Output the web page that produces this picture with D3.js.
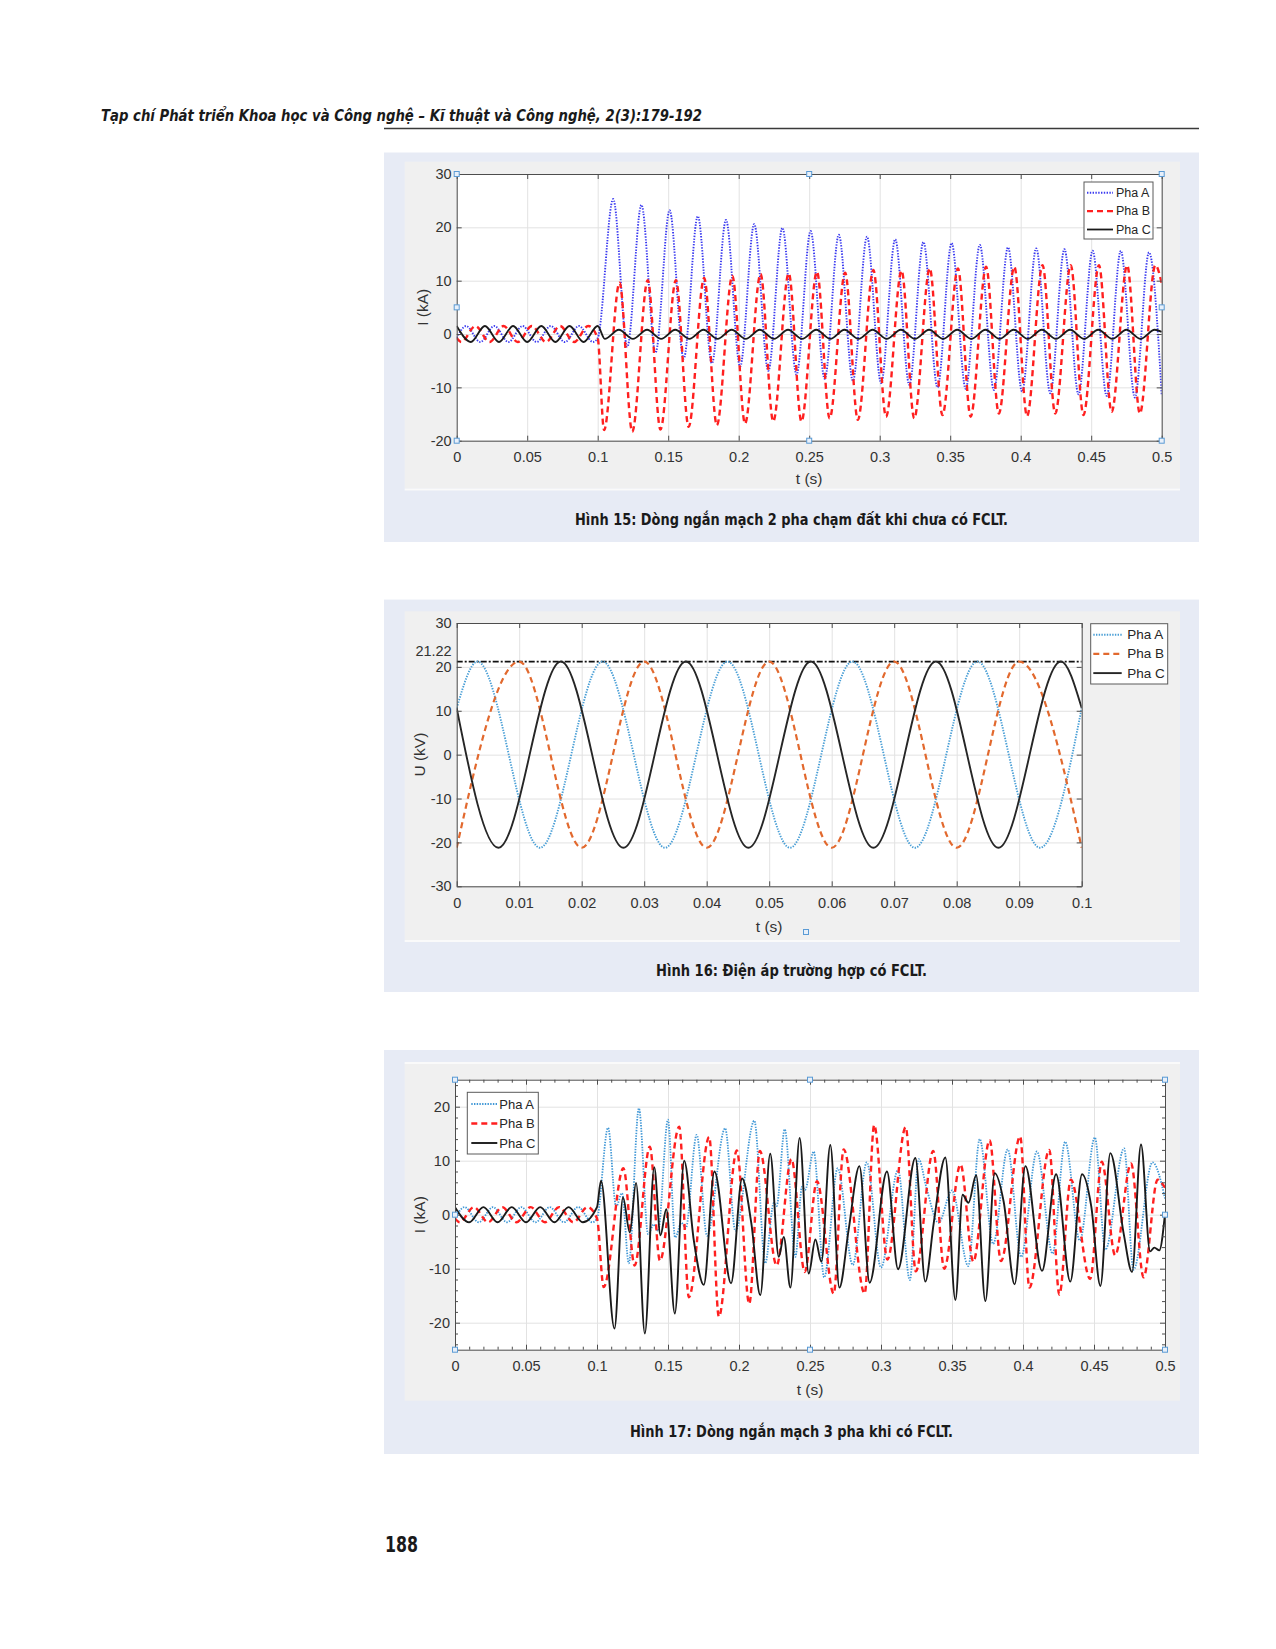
<!DOCTYPE html>
<html><head><meta charset="utf-8">
<script src="https://cdn.jsdelivr.net/npm/d3@7"></script>
<style>body{margin:0;background:#fff}svg{display:block}</style>
</head><body>
<svg id="page" width="1276" height="1649"></svg>
<script>
// ---------------- DATA ----------------
const headerText = "Tạp chí Phát triển Khoa học và Công nghệ – Kĩ thuật và Công nghệ, 2(3):179-192";
const pageNumber = "188";
const captions = [
  "Hình 15: Dòng ngắn mạch 2 pha chạm đất khi chưa có FCLT.",
  "Hình 16: Điện áp trường hợp có FCLT.",
  "Hình 17: Dòng ngắn mạch 3 pha khi có FCLT."
];
const seriesNames = ["Pha A", "Pha B", "Pha C"];

const fig15XTicks = [0, 0.05, 0.1, 0.15, 0.2, 0.25, 0.3, 0.35, 0.4, 0.45, 0.5];
const fig15YTicks = [-20, -10, 0, 10, 20, 30];
const fig15XLabel = "t (s)", fig15YLabel = "I (kA)";
const fig15Handles = [[0,30],[0.25,30],[0.5,30],[0,5],[0.5,5],[0,-20],[0.25,-20],[0.5,-20]];

const fig15PhaA = [[0,-0.75],[0.0067,1.5],[0.0167,-1.5],[0.0267,1.5],[0.0367,-1.5],[0.0467,1.5],[0.0567,-1.5],[0.0667,1.5],[0.0767,-1.5],[0.0867,1.5],[0.0967,-1.5],[0.1,-0.75],
  [0.111,25.3],[0.121,-2.4],[0.131,24.2],[0.141,-3.5],[0.151,23.2],[0.161,-4.6],[0.171,22.1],[0.181,-5.5],[0.191,21.4],[0.201,-6.1],[0.211,20.6],[0.221,-6.9],[0.231,19.9],[0.241,-7.6],[0.251,19.3],[0.261,-8.4],[0.271,18.6],[0.281,-8.75],[0.291,18.25],[0.301,-9.2],[0.311,17.75],[0.321,-9.5],[0.331,17.25],[0.341,-10.0],[0.351,17.06],[0.361,-10.25],[0.371,16.7],[0.381,-10.5],[0.391,16.25],[0.401,-10.8],[0.411,16.06],[0.421,-11.1],[0.431,15.9],[0.441,-11.3],[0.451,15.6],[0.461,-11.6],[0.471,15.6],[0.481,-11.9],[0.491,15.3],[0.5,-11.4]];
const fig15PhaB = [[0,-0.75],[0.0033,-1.5],[0.0133,1.5],[0.0233,-1.5],[0.0333,1.5],[0.0433,-1.5],[0.0533,1.5],[0.0633,-1.5],[0.0733,1.5],[0.0833,-1.5],[0.0933,1.5],[0.1,-0.75],
  [0.1045,-18.0],[0.1155,9.6],[0.1245,-18.3],[0.1355,10.1],[0.1445,-17.9],[0.1555,10.1],[0.1645,-17.4],[0.1755,10.5],[0.1845,-17.1],[0.1955,10.9],[0.2045,-16.8],[0.2155,11.25],[0.2245,-16.4],[0.2355,11.4],[0.2445,-16.4],[0.2555,11.7],[0.2645,-15.8],[0.2755,11.5],[0.2845,-16.1],[0.2955,12.0],[0.3045,-15.5],[0.3155,11.9],[0.3245,-15.8],[0.3355,12.3],[0.3445,-15.2],[0.3555,12.3],[0.3645,-15.5],[0.3755,12.6],[0.3845,-14.9],[0.3955,12.6],[0.4045,-15.4],[0.4155,12.9],[0.4245,-14.9],[0.4355,12.9],[0.4445,-15.2],[0.4555,12.9],[0.4645,-14.6],[0.4755,12.9],[0.4845,-14.9],[0.4955,12.9],[0.5,9.5]];
const fig15PhaC = [[0,1.5],[0.01,-1.5],[0.02,1.5],[0.03,-1.5],[0.04,1.5],[0.05,-1.5],[0.06,1.5],[0.07,-1.5],[0.08,1.5],[0.09,-1.5],[0.1,1.5],
  [0.105,-0.9],[0.115,0.8],[0.125,-0.9],[0.135,0.8],[0.145,-0.9],[0.155,0.8],[0.165,-0.9],[0.175,0.8],[0.185,-0.9],[0.195,0.8],[0.205,-0.9],[0.215,0.8],[0.225,-0.9],[0.235,0.8],[0.245,-0.9],[0.255,0.8],[0.265,-0.9],[0.275,0.8],[0.285,-0.9],[0.295,0.8],[0.305,-0.9],[0.315,0.8],[0.325,-0.9],[0.335,0.8],[0.345,-0.9],[0.355,0.8],[0.365,-0.9],[0.375,0.8],[0.385,-0.9],[0.395,0.8],[0.405,-0.9],[0.415,0.8],[0.425,-0.9],[0.435,0.8],[0.445,-0.9],[0.455,0.8],[0.465,-0.9],[0.475,0.8],[0.485,-0.9],[0.495,0.8],[0.5,0.4]];

const fig16XTicks = [0, 0.01, 0.02, 0.03, 0.04, 0.05, 0.06, 0.07, 0.08, 0.09, 0.1];
const fig16YTicks = [-30, -20, -10, 0, 10, 20, 30];
const fig16PeakLevel = 21.22;
const fig16XLabel = "t (s)", fig16YLabel = "U (kV)";
const fig16PhaA = [[0,10.61],[0.00333,21.22],[0.01333,-21.22],[0.02333,21.22],[0.03333,-21.22],[0.04333,21.22],[0.05333,-21.22],[0.06333,21.22],[0.07333,-21.22],[0.08333,21.22],[0.09333,-21.22],[0.1,10.61]];
const fig16PhaB = [[0,-21.22],[0.01,21.22],[0.02,-21.22],[0.03,21.22],[0.04,-21.22],[0.05,21.22],[0.06,-21.22],[0.07,21.22],[0.08,-21.22],[0.09,21.22],[0.1,-21.22]];
const fig16PhaC = [[0,10.61],[0.00667,-21.22],[0.01667,21.22],[0.02667,-21.22],[0.03667,21.22],[0.04667,-21.22],[0.05667,21.22],[0.06667,-21.22],[0.07667,21.22],[0.08667,-21.22],[0.09667,21.22],[0.1,10.61]];

const fig17XTicks = [0, 0.05, 0.1, 0.15, 0.2, 0.25, 0.3, 0.35, 0.4, 0.45, 0.5];
const fig17YTicks = [-20, -10, 0, 10, 20];
const fig17XMinor = [0.01,0.02,0.03,0.04,0.06,0.07,0.08,0.09,0.11,0.12,0.13,0.14,0.16,0.17,0.18,0.19,0.21,0.22,0.23,0.24,0.26,0.27,0.28,0.29,0.31,0.32,0.33,0.34,0.36,0.37,0.38,0.39,0.41,0.42,0.43,0.44,0.46,0.47,0.48,0.49];
const fig17YMinor = [-24,-22,-18,-16,-14,-12,-8,-6,-4,-2,2,4,6,8,12,14,16,18,22,24];
const fig17XLabel = "t (s)", fig17YLabel = "I (kA)";
const fig17Handles = [[0,25],[0.25,25],[0.5,25],[0,0],[0.5,0],[0,-25],[0.25,-25],[0.5,-25]];

const fig17PhaA = [[0,-0.7],[0.0067,1.4],[0.0167,-1.4],[0.0267,1.4],[0.0367,-1.4],[0.0467,1.4],[0.0567,-1.4],[0.0667,1.4],[0.0767,-1.4],[0.0867,1.4],[0.0967,-1.4],[0.1,-0.7],
  [0.1078,16.1],[0.1135,1.5],[0.1176,4.0],[0.1224,-9.0],[0.1295,19.7],[0.136,-3.6],[0.14,-1.8],[0.143,-3.0],[0.15,17.6],[0.155,-4.2],[0.1595,-1.5],[0.1625,-2.5],[0.1702,14.8],[0.1775,-3.9],[0.1902,16.0],[0.1975,-3.0],[0.2108,17.4],[0.2185,-9.0],[0.2245,2.2],[0.2265,1.6],[0.2322,15.8],[0.2397,-7.8],[0.2444,5.2],[0.2465,4.6],[0.2526,11.7],[0.26,-11.6],[0.2695,8.6],[0.2801,-9.3],[0.29,9.7],[0.3,-9.8],[0.312,8.3],[0.3203,-12.1],[0.3265,10.3],[0.332,5.0],[0.3405,-1.5],[0.35,4.5],[0.3615,-9.5],[0.3695,14.0],[0.379,-5.4],[0.3892,12.1],[0.3987,-7.8],[0.4098,11.7],[0.4208,-7.2],[0.4297,13.5],[0.44,-4.8],[0.4506,14.3],[0.458,-6.5],[0.4712,12.3],[0.4778,-10.2],[0.4912,9.7],[0.5,3.0]];
const fig17PhaB = [[0,-0.7],[0.0033,-1.4],[0.0133,1.4],[0.0233,-1.4],[0.0333,1.4],[0.0433,-1.4],[0.0533,1.4],[0.0633,-1.4],[0.0733,1.4],[0.0833,-1.4],[0.0933,1.4],[0.1,-0.7],
  [0.1047,-13.4],[0.1186,8.6],[0.1265,-9.4],[0.1372,12.6],[0.1443,-8.5],[0.1579,16.3],[0.1647,-15.3],[0.179,14.4],[0.1858,-18.9],[0.1985,11.9],[0.2072,-16.5],[0.2147,11.8],[0.2265,-9.4],[0.2369,10.3],[0.2463,-10.6],[0.2549,6.2],[0.2667,-14.6],[0.2737,12.1],[0.2885,-14.6],[0.2952,16.6],[0.3045,-8.3],[0.3174,16.2],[0.3245,-10.5],[0.3368,11.8],[0.3445,-10.0],[0.356,9.3],[0.365,-8.7],[0.3765,13.8],[0.3845,-8.6],[0.398,14.5],[0.4045,-13.5],[0.4185,12.0],[0.4256,-14.8],[0.4337,6.5],[0.4473,-11.9],[0.4555,9.8],[0.4649,-7.5],[0.4761,9.5],[0.4849,-11.6],[0.4948,6.5],[0.5,5.0]];
const fig17PhaC = [[0,1.4],[0.01,-1.4],[0.02,1.4],[0.03,-1.4],[0.04,1.4],[0.05,-1.4],[0.06,1.4],[0.07,-1.4],[0.08,1.4],[0.09,-1.4],[0.1,1.4],
  [0.1028,6.3],[0.1123,-21.1],[0.1183,3.2],[0.1231,-3.3],[0.1275,5.9],[0.1337,-22.0],[0.1403,8.8],[0.1447,-3.8],[0.1488,1.0],[0.1548,-18.3],[0.1614,10.0],[0.1682,-4.8],[0.1752,-13.0],[0.1827,8.0],[0.1944,-12.7],[0.2022,6.7],[0.2087,-1.6],[0.215,-14.9],[0.222,11.3],[0.228,-7.8],[0.2315,-4.1],[0.2362,-13.5],[0.2427,14.2],[0.2491,-10.9],[0.2538,-4.6],[0.258,-8.7],[0.2643,12.9],[0.2707,-13.5],[0.2772,-2.8],[0.2848,9.0],[0.292,-12.6],[0.3042,8.0],[0.312,-10.1],[0.3242,10.5],[0.3312,-12.4],[0.3371,-1.6],[0.3453,10.6],[0.3524,-15.8],[0.3575,3.7],[0.3616,2.2],[0.367,7.3],[0.3735,-16.0],[0.3801,7.7],[0.3864,2.4],[0.3941,-12.9],[0.4017,9.0],[0.4134,-10.4],[0.4233,7.5],[0.4333,-12.4],[0.4416,7.5],[0.4481,1.5],[0.4545,-13.2],[0.4615,11.4],[0.4709,-3.5],[0.4768,-10.6],[0.4831,13.0],[0.4895,-6.8],[0.4925,-6.1],[0.496,-6.6],[0.5,0.2]];

// ---------------- DRAWING ----------------
const svg = d3.select('#page');
svg.append('rect').attr('width',1276).attr('height',1649).attr('fill','#fff');
const SANS = "'Liberation Sans', Arial, Helvetica, sans-serif";
const COND = "'Liberation Sans Narrow', 'DejaVu Sans Condensed', 'Liberation Sans', sans-serif";

svg.append('text').attr('x',101).attr('y',121).text(headerText)
  .attr('font-family',COND).attr('font-style','italic').attr('font-weight','bold')
  .attr('font-size',16).attr('textLength',601).attr('lengthAdjust','spacingAndGlyphs').attr('fill','#1a1a1a');
svg.append('line').attr('x1',384).attr('x2',1199).attr('y1',128.5).attr('y2',128.5)
  .attr('stroke','#3a3a3a').attr('stroke-width',1.3);

svg.append('text').attr('x',385).attr('y',1552).text(pageNumber)
  .attr('font-family',COND).attr('font-weight','bold').attr('font-size',21)
  .attr('textLength',33).attr('lengthAdjust','spacingAndGlyphs').attr('fill','#1a1a1a');

function panel(p){
  svg.append('rect').attr('x',384).attr('y',p.top).attr('width',815).attr('height',p.bottom-p.top).attr('fill','#e7ebf5');
  svg.append('rect').attr('x',404.7).attr('y',p.figTop).attr('width',775.3).attr('height',p.figBottom-p.figTop).attr('fill','#f0f0f0');
  svg.append('line').attr('x1',404.7).attr('x2',1180).attr('y1',p.whiteY).attr('y2',p.whiteY).attr('stroke','#fafafa').attr('stroke-width',2);
  svg.append('text').attr('x',791.5).attr('y',p.capY).attr('text-anchor','middle').text(p.caption)
    .attr('font-family',COND).attr('font-weight','bold').attr('font-size',15)
    .attr('textLength',p.capW).attr('lengthAdjust','spacingAndGlyphs').attr('fill','#1a1a1a');
}
panel({top:152.5,bottom:542,figTop:161.7,figBottom:488.5,whiteY:489.5,capY:525,capW:433,caption:captions[0]});
panel({top:599.6,bottom:992,figTop:611.3,figBottom:940,whiteY:941,capY:976,capW:271,caption:captions[1]});
panel({top:1050,bottom:1454,figTop:1063,figBottom:1400.7,whiteY:1063,capY:1437,capW:323,caption:captions[2]});

const fmt = d => String(+(+d).toFixed(2));
let clipId = 0;
function chart(c){
  const x = d3.scaleLinear().domain(c.xDomain).range([c.left,c.right]);
  const y = d3.scaleLinear().domain(c.yDomain).range([c.bottom,c.top]);
  const w = c.right-c.left, h = c.bottom-c.top;
  const g = svg.append('g');
  g.append('rect').attr('x',c.left).attr('y',c.top).attr('width',w).attr('height',h).attr('fill','#fff');
  // grid
  g.append('g').attr('transform',`translate(0,${c.bottom})`)
    .call(d3.axisBottom(x).tickValues(c.xTicks).tickSize(-h).tickFormat(''))
    .call(s=>{s.select('.domain').remove(); s.selectAll('line').attr('stroke','#e2e2e2').attr('stroke-width',1);});
  g.append('g').attr('transform',`translate(${c.left},0)`)
    .call(d3.axisLeft(y).tickValues(c.yTicks).tickSize(-w).tickFormat(''))
    .call(s=>{s.select('.domain').remove(); s.selectAll('line').attr('stroke','#e2e2e2').attr('stroke-width',1);});
  // clip
  const id = 'clip'+(clipId++);
  g.append('clipPath').attr('id',id).append('rect').attr('x',c.left).attr('y',c.top).attr('width',w).attr('height',h);
  const line = d3.line().x(d=>x(d[0])).y(d=>y(d[1])).curve(d3.curveMonotoneX);
  const lg = g.append('g').attr('clip-path',`url(#${id})`);
  if (c.refLevel !== undefined) {
    lg.append('line').attr('x1',x(c.xDomain[0])).attr('x2',x(c.xDomain[1])).attr('y1',y(c.refLevel)).attr('y2',y(c.refLevel))
      .attr('stroke','#111').attr('stroke-width',1.8).attr('stroke-dasharray','6,2,2,2');
  }
  c.series.forEach(s=>{
    lg.append('path').datum(s.data).attr('d',line).attr('fill','none')
      .attr('stroke',s.color).attr('stroke-width',s.width).attr('stroke-dasharray',s.dash||null)
      .attr('stroke-linejoin','round');
  });
  // axes (ticks inward)
  const axCol = '#4d4d4d';
  const style = s => { s.select('.domain').attr('stroke',axCol); s.selectAll('.tick line').attr('stroke',axCol);
    s.selectAll('text').attr('font-family',SANS).attr('font-size',14.5).attr('fill','#333'); };
  g.append('g').attr('transform',`translate(0,${c.bottom})`)
    .call(d3.axisBottom(x).tickValues(c.xTicks).tickSizeInner(-5).tickSizeOuter(0).tickPadding(11).tickFormat(fmt)).call(style);
  g.append('g').attr('transform',`translate(0,${c.top})`)
    .call(d3.axisTop(x).tickValues(c.xTicks).tickSizeInner(-5).tickSizeOuter(0).tickFormat('')).call(style);
  g.append('g').attr('transform',`translate(${c.left},0)`)
    .call(d3.axisLeft(y).tickValues(c.yTicks).tickSizeInner(-5).tickSizeOuter(0).tickPadding(5).tickFormat(fmt)).call(style);
  g.append('g').attr('transform',`translate(${c.right},0)`)
    .call(d3.axisRight(y).tickValues(c.yTicks).tickSizeInner(-5).tickSizeOuter(0).tickFormat('')).call(style);
  if (c.xMinor) {
    [[d3.axisBottom,c.bottom],[d3.axisTop,c.top]].forEach(([ax,pos])=>{
      g.append('g').attr('transform',`translate(0,${pos})`)
        .call(ax(x).tickValues(c.xMinor).tickSizeInner(-3).tickSizeOuter(0).tickFormat(''))
        .call(s=>{s.select('.domain').remove(); s.selectAll('line').attr('stroke',axCol);});
    });
    [[d3.axisLeft,c.left],[d3.axisRight,c.right]].forEach(([ax,pos])=>{
      g.append('g').attr('transform',`translate(${pos},0)`)
        .call(ax(y).tickValues(c.yMinor).tickSizeInner(-3).tickSizeOuter(0).tickFormat(''))
        .call(s=>{s.select('.domain').remove(); s.selectAll('line').attr('stroke',axCol);});
    });
  }
  if (c.refLevel !== undefined) {
    g.append('text').attr('x',c.left-5).attr('y',y(c.refLevel)-10).attr('dy','0.32em').attr('text-anchor','end')
      .text(String(c.refLevel)).attr('font-family',SANS).attr('font-size',14.5).attr('fill','#333');
  }
  // axis labels
  g.append('text').attr('x',(c.left+c.right)/2).attr('y',c.bottom+c.xLabelOff).attr('text-anchor','middle')
    .attr('dominant-baseline','central').text(c.xLabel).attr('font-family',SANS).attr('font-size',15.5).attr('fill','#333');
  g.append('text').attr('transform',`translate(${c.yLabelX},${(c.top+c.bottom)/2}) rotate(-90)`).attr('text-anchor','middle')
    .attr('dominant-baseline','central').text(c.yLabel).attr('font-family',SANS).attr('font-size',15.5).attr('fill','#333');
  // selection handles
  (c.handles||[]).forEach(d=>{
    g.append('rect').attr('x',x(d[0])-2.5).attr('y',y(d[1])-2.5).attr('width',5).attr('height',5)
      .attr('fill','#e8f0fa').attr('stroke','#5b9bd5').attr('stroke-width',1);
  });
  // legend
  const L = c.legend;
  g.append('rect').attr('x',L.x).attr('y',L.y).attr('width',L.w).attr('height',L.h).attr('fill','#fff').attr('stroke','#5a5a5a').attr('stroke-width',1);
  c.series.forEach((s,i)=>{
    const yy = L.y + L.first + i*L.step;
    g.append('line').attr('x1',L.x+L.lx0).attr('x2',L.x+L.lx1).attr('y1',yy).attr('y2',yy)
      .attr('stroke',s.color).attr('stroke-width',s.width).attr('stroke-dasharray',s.dash||null);
    g.append('text').attr('x',L.x+L.tx).attr('y',yy).attr('dominant-baseline','central').text(s.name)
      .attr('font-family',SANS).attr('font-size',L.fs).attr('fill','#262626');
  });
  return {x,y};
}

chart({
  xDomain:[0,0.5], yDomain:[-20,30], left:456.7, right:1161.7, top:174, bottom:440.7,
  xTicks:fig15XTicks, yTicks:fig15YTicks, xLabel:fig15XLabel, yLabel:fig15YLabel, xLabelOff:37.6, yLabelX:422,
  handles:fig15Handles,
  series:[
    {name:seriesNames[0], data:fig15PhaA, color:'#3a3af0', width:1.9, dash:'1.4,1.4'},
    {name:seriesNames[1], data:fig15PhaB, color:'#ff1f1f', width:2.4, dash:'6,4'},
    {name:seriesNames[2], data:fig15PhaC, color:'#1a1a1a', width:1.8}
  ],
  legend:{x:1084,y:182,w:69,h:57,first:10.7,step:18.4,lx0:3,lx1:29,tx:32,fs:12.5}
});

chart({
  xDomain:[0,0.1], yDomain:[-30,30], left:456.7, right:1081.7, top:623, bottom:886.3,
  xTicks:fig16XTicks, yTicks:fig16YTicks, xLabel:fig16XLabel, yLabel:fig16YLabel, xLabelOff:40, yLabelX:419,
  refLevel:fig16PeakLevel,
  series:[
    {name:seriesNames[0], data:fig16PhaA, color:'#4a9fd6', width:1.9, dash:'1.4,1.3'},
    {name:seriesNames[1], data:fig16PhaB, color:'#e2692e', width:2.2, dash:'6,4'},
    {name:seriesNames[2], data:fig16PhaC, color:'#262626', width:1.9}
  ],
  legend:{x:1090.7,y:623.7,w:77,h:60.3,first:11,step:19.2,lx0:2.6,lx1:31,tx:36.6,fs:13.5}
});
// lone selection handle under the x label of Fig. 16
svg.append('rect').attr('x',803.5).attr('y',929.5).attr('width',5).attr('height',5)
  .attr('fill','#e8f0fa').attr('stroke','#5b9bd5').attr('stroke-width',1);

chart({
  xDomain:[0,0.5], yDomain:[-25,25], left:455, right:1165, top:1079.7, bottom:1349.7,
  xTicks:fig17XTicks, yTicks:fig17YTicks, xMinor:fig17XMinor, yMinor:fig17YMinor,
  xLabel:fig17XLabel, yLabel:fig17YLabel, xLabelOff:40, yLabelX:419,
  handles:fig17Handles,
  series:[
    {name:seriesNames[0], data:fig17PhaA, color:'#3f97d6', width:1.8, dash:'1.4,1.3'},
    {name:seriesNames[1], data:fig17PhaB, color:'#ff1f1f', width:2.4, dash:'6,4'},
    {name:seriesNames[2], data:fig17PhaC, color:'#1a1a1a', width:1.9}
  ],
  legend:{x:467.3,y:1092.3,w:71,h:61.7,first:11.7,step:19.5,lx0:4,lx1:30,tx:32,fs:13}
});
</script>
</body></html>
